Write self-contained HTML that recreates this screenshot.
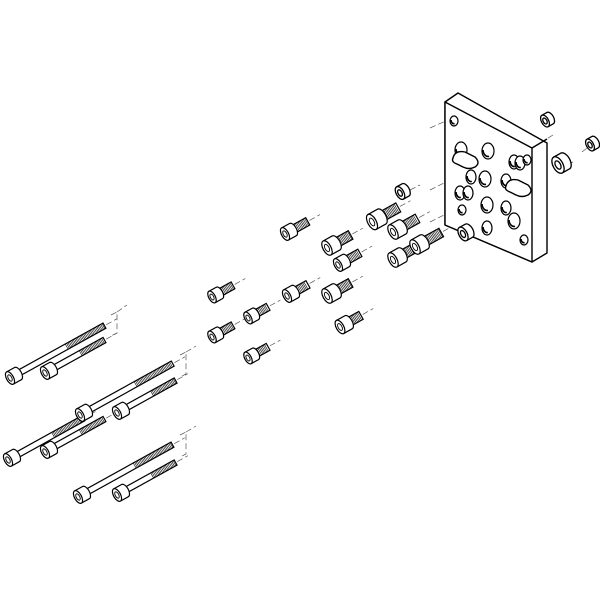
<!DOCTYPE html>
<html><head><meta charset="utf-8"><style>
html,body{margin:0;padding:0;background:#fff;width:600px;height:600px;overflow:hidden}
svg{display:block}
</style></head><body>
<svg id="s" width="600" height="600" viewBox="0 0 600 600" xmlns="http://www.w3.org/2000/svg">
<g id="lines" stroke="#555" stroke-width="0.7" stroke-dasharray="6,3" fill="none"></g>
<g id="plate" stroke="#000" stroke-width="1.4" fill="#fff" stroke-linejoin="round">
  <polygon points="445,102 458,93 547,143 547,253 532,262 445,225"/>
  <polygon points="445,102 532,148 532,262 445,225"/>
  <line x1="532" y1="148" x2="547" y2="139"/>
</g>
<g id="parts"></g>
</svg>
<script>
var NS="http://www.w3.org/2000/svg";
function el(p,t,a){var e=document.createElementNS(NS,t);for(var k in a)e.setAttribute(k,a[k]);p.appendChild(e);return e;}
var parts=document.getElementById('parts'),lines=document.getElementById('lines'),plate=document.getElementById('plate');
var holes=[[454,121,3,4],[461,150,5,7],[471,177,4,6],[488,151,5,7],[485,179,5,7],[460,193,4,6],[468,193,4,6],[462,210,3,4],[487,205,5,7],[487,228,4,6],[514,162,4,6],[520,163,4,6],[527,160,3,4],[506,181,4,6],[514,221,5,7],[524,240,3,4],[506,208,4,6]];
holes.forEach(function(h){el(plate,'ellipse',{cx:h[0],cy:h[1],rx:h[2]+1,ry:h[3]+1,fill:'#fff','stroke-width':1.2});el(plate,'path',{d:'M'+(h[0]-h[2])+','+(h[1]-1)+' a'+(h[2])+','+(h[3])+' 0 0 0 '+(h[2]*1.2)+','+(h[3]*0.9),fill:'none','stroke-width':1.6});});
el(plate,'path',{d:'M453,158 q2,-8 12,-6 l10,5 q6,6 0,10 q-6,3 -12,0 l-6,-3 q-6,-2 -4,-6z',fill:'#fff'});
el(plate,'path',{d:'M506,186 q2,-8 12,-6 l10,5 q6,6 0,10 q-6,3 -12,0 l-6,-3 q-6,-2 -4,-6z',fill:'#fff'});
function screw(x,y,L,r,long){
  var g=el(parts,'g',{transform:'translate('+x+','+y+') rotate(-29)',stroke:'#000','stroke-width':1.2,fill:'#fff'});
  var sr=long?r*0.42:r*0.6, hl=r*1.3;
  el(g,'rect',{x:hl,y:-sr,width:L-hl,height:2*sr});
  var ts=long?L*0.6:hl+2;
  for(var t=ts;t<L-1;t+=1.5)el(g,'line',{x1:t,y1:-sr,x2:t,y2:sr,'stroke-width':0.6});
  el(g,'path',{d:'M0,'+(-r)+' L'+hl+','+(-r)+' A'+(r*0.5)+','+r+' 0 0 1 '+hl+','+r+' L0,'+r});
  el(g,'ellipse',{cx:0,cy:0,rx:r*0.5,ry:r});
  el(g,'ellipse',{cx:0,cy:0,rx:r*0.25,ry:r*0.5,'stroke-width':0.9});
  var a=-29*Math.PI/180,c=Math.cos(a),s=Math.sin(a);
  el(lines,'line',{x1:x+(L+2)*c,y1:y+(L+2)*s,x2:x+(L+14)*c,y2:y+(L+14)*s});
}
function nut(x,y,r){
  var g=el(parts,'g',{transform:'translate('+x+','+y+') rotate(-29)',stroke:'#000','stroke-width':1.3,fill:'#fff'});
  el(g,'path',{d:'M0,'+(-r)+' L'+(r*0.9)+','+(-r)+' A'+(r*0.55)+','+r+' 0 0 1 '+(r*0.9)+','+r+' L0,'+r});
  el(g,'ellipse',{cx:0,cy:0,rx:r*0.55,ry:r});
  el(g,'ellipse',{cx:0,cy:0,rx:r*0.28,ry:r*0.5});
}
var longs=[[10,378,108],[45,373,68],[8,460,86],[80,415,106],[117,413,67],[45,452,68],[78,497,108],[117,495,67]];
longs.forEach(function(p){screw(p[0],p[1],p[2],7,true);});
var shorts=[[285,234,26,7],[212,297,24,6.5],[287,296,24,7],[327,296,27,8],[248,318,23,6.5],[212,337,24,6.5],[340,327,24,7.5],[248,358,23,6.5],[338,265,25,7],[327,248,27,8],[372,222,30,8.5],[393,260,25,8],[393,232,28,8],[415,247,30,8]];
shorts.forEach(function(p){screw(p[0],p[1],p[2],p[3],false);});
nut(400,193,7);nut(463,234,7.5);nut(545,121,6.5);nut(558,165,9);nut(590,145,6.5);
[[430,128,448,120],[430,190,450,180],[430,222,450,212],[470,218,490,206],[512,238,525,232],[507,172,527,162],[553,135,545,140],[573,162,565,165],[582,152,587,148],[410,190,420,185],[476,232,490,226]].forEach(function(l){el(lines,'line',{x1:l[0],y1:l[1],x2:l[2],y2:l[3]});});
[[117,312,127,305,333],[186,352,196,346,374],[186,432,196,426,454]].forEach(function(b){
  el(lines,'path',{d:'M'+(b[0]-6)+','+(b[1]+3)+' L'+b[0]+','+b[1]+' L'+b[0]+','+b[4]+' L'+(b[0]-6)+','+(b[4]+3)+' M'+b[0]+','+b[1]+' L'+b[2]+','+b[3]});
});
</script>
</body></html>
